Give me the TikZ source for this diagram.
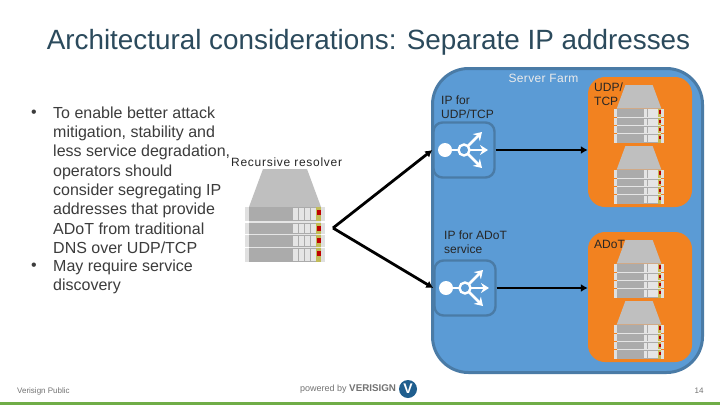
\documentclass[tikz,border=0pt]{standalone}
\usepackage{fontspec}
\setmainfont{Liberation Sans}
\newfontfamily\spacedfont[LetterSpace=6]{Liberation Sans}
\newfontfamily\farmfont[LetterSpace=3]{Liberation Sans}
\usetikzlibrary{arrows.meta}
\definecolor{farmblue}{HTML}{5B9BD5}
\definecolor{farmedge}{HTML}{4A7BA6}
\definecolor{farmorange}{HTML}{F28220}
\definecolor{titleink}{HTML}{2B4A5C}
\definecolor{bodyink}{HTML}{3C3C3C}
\definecolor{barink}{HTML}{70AD47}
\definecolor{logoblue}{HTML}{1F5E8E}
\tikzset{
  farmbox/.style={draw=farmedge, line width=3pt, fill=farmblue, rounded corners=36pt, minimum width=270pt, minimum height=304pt, inner sep=0pt},
  poolbox/.style={fill=farmorange, rounded corners=17pt, minimum width=104pt, minimum height=130pt, inner sep=0pt},
  routerbox/.style={draw=farmedge, line width=2.4pt, fill=farmblue, rounded corners=9pt, minimum width=61pt, minimum height=55pt, inner sep=0pt},
  label/.style={font=\fontsize{12}{14}\selectfont, text=black!85, align=left, anchor=north west, inner sep=0pt},
  bodytext/.style={font=\fontsize{16}{19.3}\selectfont, text=bodyink, align=left, anchor=north west, inner sep=0pt},
  foot/.style={font=\fontsize{8}{9}\selectfont, text=black!55, inner sep=0pt},
  link/.style={line width=2.8pt, black, -{Latex[length=7pt,width=8pt]}},
  serverbox/.pic={
    \fill[black!25] (-22,0) -- (22,0) -- (36,38) -- (-36,38) -- cycle;
    \fill[black!10] (-36,38) rectangle (36,93);
    \foreach \top/\bot in {38/52,54/65,66/78,79/93} {
      \fill[black!12] (-40,\top) rectangle (40,\bot);
      \fill[black!33] (-36,\top) rectangle (36,\bot);
      \foreach \tile in {8,14,20,26} \fill[black!10] (\tile,\top+1) rectangle ++(5.2,\bot-\top-2);
      \fill[olive!55] (31,\top) rectangle (36,\bot);
      \fill[red!75!black] (31.5,\top+3) rectangle (35.5,\top+8);
    }
  },
  routericon/.pic={
    \fill[white] (-19,0) circle (7);
    \draw[white, line width=2.4pt] (0,0) circle (5.5);
    \draw[white, line width=2.8pt] (-13,0) -- (-5.5,0);
    \draw[white, line width=2.6pt, -{Stealth[length=8pt,width=10pt]}] (5.5,0) -- (24,0);
    \draw[white, line width=2.6pt, -{Stealth[length=8pt,width=10pt]}] (3.8,-3.8) -- (18,-18);
    \draw[white, line width=2.6pt, -{Stealth[length=8pt,width=10pt]}] (3.8,3.8) -- (18,18);
  }
}
\begin{document}
\begin{tikzpicture}[x=1pt,y=-1pt]
\useasboundingbox (0,0) rectangle (720,405);
\fill[white] (0,0) rectangle (720,405);

\node[font=\fontsize{27.85}{30}\selectfont, text=titleink, inner sep=0pt] (title) at (368.5,42) {Architectural considerations: Separate IP addresses};

% left hand text
\node[bodytext] (bulletone) at (31,110) {•};
\node[bodytext] (pointone) at (53,106.5) {To enable better attack\\mitigation, stability and\\less service degradation,\\operators should\\consider segregating IP\\addresses that provide\\ADoT from traditional\\DNS over UDP/TCP};
\node[bodytext] (bullettwo) at (31,263) {•};
\node[bodytext] (pointtwo) at (53,259.5) {May require service\\discovery};

% resolver
\node[label, font=\spacedfont\fontsize{12}{14}\selectfont] (resolverlabel) at (231,158) {Recursive resolver};
\pic at (285,169) {serverbox};
\coordinate (resolver) at (333,228);

% server farm
\node[farmbox] (farm) at (567.5,220.5) {};
\node[font=\farmfont\fontsize{12}{14}\selectfont, text=black!8, inner sep=0pt] (farmlabel) at (543.5,78) {Server Farm};
\node[poolbox] (pooludp) at (640,142) {};
\node[poolbox] (pooladot) at (640,297) {};
\node[label] (udplabel) at (594,83) {UDP/\\TCP};
\node[label] (adotlabel) at (594,240) {ADoT};
\pic[scale=.62] at (639,85) {serverbox};
\pic[scale=.62] at (639,146) {serverbox};
\pic[scale=.62] at (639,240) {serverbox};
\pic[scale=.62] at (639,301) {serverbox};

\node[label] (iplabel) at (441,96) {IP for\\UDP/TCP};
\node[label] (adotiplabel) at (444,231) {IP for ADoT\\service};
\node[routerbox] (routerudp) at (464,150) {};
\node[routerbox] (routeradot) at (465,288) {};
\pic at (464,150) {routericon};
\pic at (465,288) {routericon};

\draw[link] (resolver) -- (routerudp.west);
\draw[link] (resolver) -- (routeradot.west);
\draw[link] (routerudp.east) -- (pooludp.west |- routerudp.east);
\draw[link] (routeradot.east) -- (pooladot.west |- routeradot.east);

% footer
\node[foot, anchor=west] (public) at (17,391) {Verisign Public};
\node[foot, anchor=west, font=\fontsize{9}{10}\selectfont] (powered) at (300,389) {powered by \textbf{\fontsize{9.8}{10}\selectfont VERISIGN}};
\node[circle, fill=logoblue, minimum size=18pt, inner sep=0pt, font=\bfseries\fontsize{14}{14}\selectfont, text=white] (logo) at (408,389) {V};
\node[foot] (pagenum) at (699,391) {14};
\fill[barink] (0,402) rectangle (720,405);
\end{tikzpicture}
\end{document}
